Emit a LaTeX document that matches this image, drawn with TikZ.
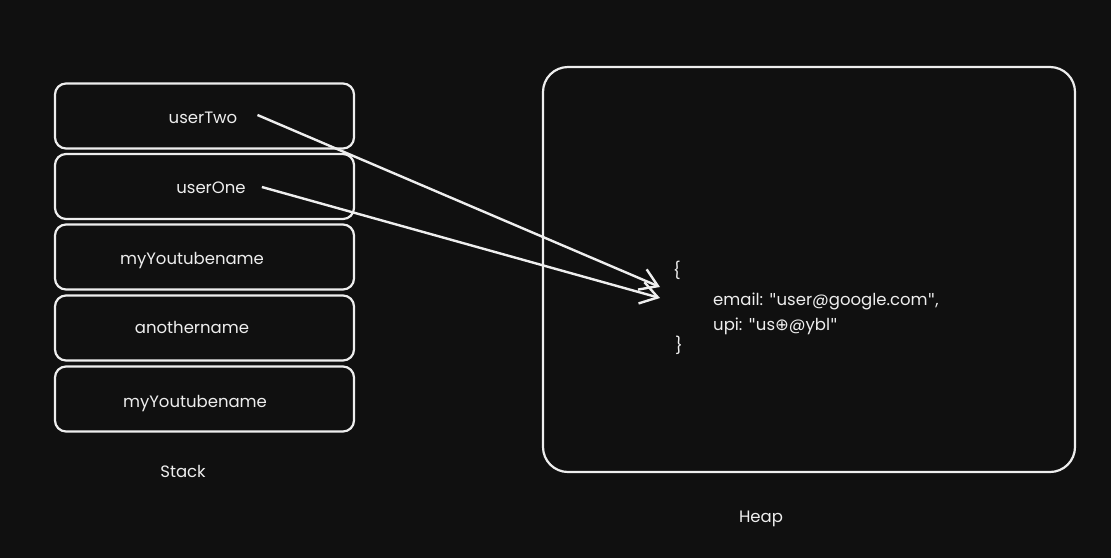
\documentclass[tikz,border=0pt]{standalone}
\usepackage{fontspec}
\setmainfont{Poppins}
\newfontfamily\glyphfont{DejaVu Sans}
\usetikzlibrary{arrows.meta}
\definecolor{bg}{RGB}{16,16,16}
\definecolor{chalk}{RGB}{238,238,238}
\newcommand{\qq}{{\glyphfont"}}
\tikzset{
	cell/.style={draw=chalk, line width=2.2pt, rounded corners=11pt, minimum width=299pt, minimum height=65pt},
	word/.style={text=chalk, font=\fontsize{16.5}{19}\selectfont, inner sep=0pt},
}
\begin{document}
\begin{tikzpicture}[x=1pt, y=-1pt, >={Straight Barb[length=17pt,width=22pt]}]
\fill[bg] (0,0) rectangle (1111,558);
\useasboundingbox (0,0) rectangle (1111,558);

% stack
\node [cell] (s1) at (204.5,116) {};
\node [cell] (s2) at (204.5,186.5) {};
\node [cell] (s3) at (204.5,257) {};
\node [cell] (s4) at (204.5,328) {};
\node [cell] (s5) at (204.5,399) {};
\node [word] (two) at (203,118) {userTwo};
\node [word] (one) at (211,188) {userOne};
\node [word] (yt1) at (192,261) {myYoutubename};
\node [word] (other) at (192,327) {anothername};
\node [word] (yt2) at (195,404) {myYoutubename};
\node [word] (stack) at (183,471) {Stack};

% heap
\node [draw=chalk, line width=2.2pt, rounded corners=25pt, minimum width=532pt, minimum height=405pt] (heap) at (809,269.5) {};
\node [word] (heaplbl) at (761,519) {Heap};
\node [word] (open) at (677,270) {\{};
\node [word, anchor=west] (email) at (713,301) {email: \qq user@google.com\qq,};
\node [word, anchor=west] (upi) at (713,326) {upi: \qq us{\glyphfont ⊕}@ybl\qq};
\node [word] (close) at (679,345) {\}};

\coordinate (t2) at (660,287);
\coordinate (t1) at (660,298);
\draw [->, chalk, line width=2.4pt] ([xshift=20pt,yshift=3pt]two.east) -- (t2);
\draw [->, chalk, line width=2.4pt] ([xshift=16pt,yshift=1pt]one.east) -- (t1);

\end{tikzpicture}
\end{document}
